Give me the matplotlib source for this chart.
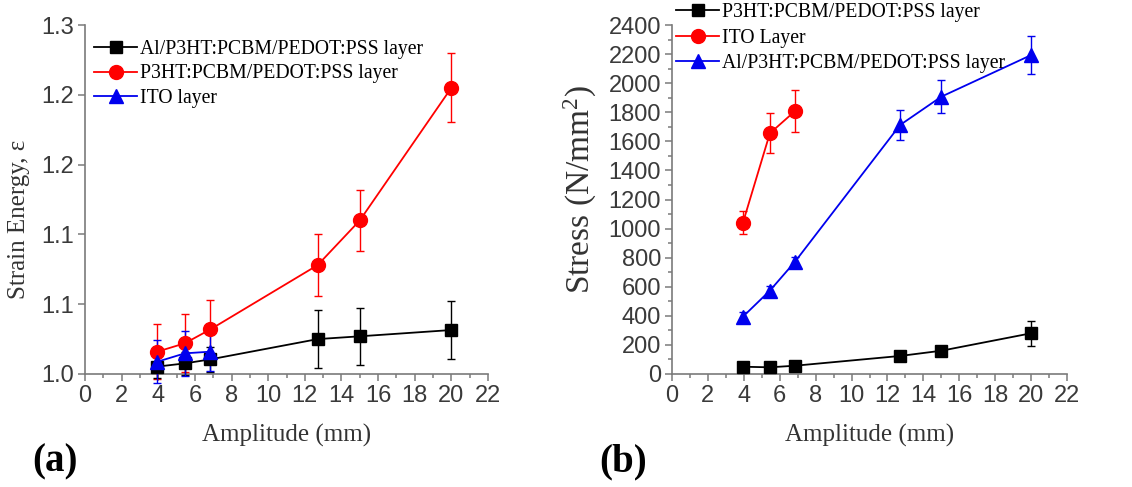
import matplotlib
matplotlib.use("Agg")
import matplotlib.pyplot as plt
from matplotlib.ticker import MultipleLocator, FixedLocator

plt.rcParams["mathtext.fontset"] = "custom"
plt.rcParams["mathtext.rm"] = "Liberation Serif"
plt.rcParams["mathtext.it"] = "Liberation Serif:italic"

# Amplitude values (mm)
amp = [3.95, 5.45, 6.85, 12.7, 15.0, 20.0]
amp_short = [3.95, 5.45, 6.85]

# (a) strain energy
se_al = [1.0053, 1.0076, 1.0105, 1.025, 1.027, 1.0315]
se_al_err = [0.008, 0.008, 0.009, 0.0207, 0.0204, 0.021]
se_p3 = [1.016, 1.022, 1.032, 1.078, 1.110, 1.205]
se_p3_err = [0.0198, 0.0208, 0.021, 0.022, 0.022, 0.0247]
se_ito = [1.0088, 1.0148, 1.016]
se_ito_err = [0.0155, 0.016, 0.014]
se_ticks = [1.0, 1.05, 1.1, 1.15, 1.2, 1.25]
se_ticklabels = ["1.0", "1.1", "1.1", "1.2", "1.2", "1.3"]

# (b) stress
st_p3 = [50, 46, 57, 124, 160, 280]
st_p3_err = [15, 15, 15, 20, 25, 85]
st_ito = [1040, 1655, 1808]
st_ito_err = [80, 137, 146]
st_al = [394, 573, 772, 1712, 1907, 2193]
st_al_err = [30, 30, 30, 103, 115, 132]

RED = "#ff0000"
BLUE = "#0000ee"
SPINE = "#7a7a7a"
TICKC = "#3a3a3a"
SERIF = ["Liberation Serif", "DejaVu Serif"]
SANS = ["Liberation Sans", "DejaVu Sans"]

fig = plt.figure(figsize=(11.32, 4.87), dpi=100)
W, H = 1132, 487


def ax_rect(x0, x1, ytop, ybot):
    return [x0 / W, 1 - ybot / H, (x1 - x0) / W, (ybot - ytop) / H]


def style_axes(ax):
    for s in ("top", "right"):
        ax.spines[s].set_visible(False)
    for s in ("left", "bottom"):
        ax.spines[s].set_color(SPINE)
        ax.spines[s].set_linewidth(1.2)
    ax.tick_params(which="both", direction="out", color=SPINE, width=1.1,
                   labelcolor=TICKC, labelsize=17, pad=3)
    ax.tick_params(which="major", length=5)
    ax.tick_params(which="minor", length=3)
    for lab in ax.get_xticklabels() + ax.get_yticklabels():
        lab.set_fontfamily(SANS)
    ax.set_xlim(0, 22)
    ax.xaxis.set_major_locator(MultipleLocator(2))
    ax.xaxis.set_minor_locator(MultipleLocator(1))
    ax.set_xlabel("Amplitude (mm)", family=SERIF, fontsize=18, color="#333333",
                  labelpad=12)


def series(ax, x, y, err, color, marker, ms, label, lw=1.3):
    c = ax.errorbar(x, y, yerr=err, color=color, marker=marker, markersize=ms,
                    linewidth=lw, elinewidth=1.0, capsize=3, capthick=1.0,
                    clip_on=False, zorder=3)
    line = c[0]
    line.set_label(label)
    return line


LEG = dict(frameon=False, prop={"family": SERIF, "size": 14.2},
           handlelength=2.2, handletextpad=0.12)

# ---- panel (a)
ax1 = fig.add_axes(ax_rect(85, 488, 25, 374))
style_axes(ax1)
ax1.set_ylim(1.0, 1.25)
ax1.yaxis.set_major_locator(FixedLocator(se_ticks))
ax1.set_yticklabels(se_ticklabels, family=SANS)
l_p3 = series(ax1, amp, se_p3, se_p3_err, RED, "o", 10, "P3HT:PCBM/PEDOT:PSS layer")
l_al = series(ax1, amp, se_al, se_al_err, "black", "s", 9, "Al/P3HT:PCBM/PEDOT:PSS layer")
l_ito = series(ax1, amp_short, se_ito, se_ito_err, BLUE, "^", 10, "ITO layer")
ax1.legend(handles=[l_al, l_p3, l_ito], loc="upper left",
           bbox_to_anchor=(-0.012, 0.998), labelspacing=0.3, borderaxespad=0.3,
           **LEG)
fig.text(19 / W, 1 - 219 / H, "Strain Energy, \u03b5", rotation=90,
         ha="center", va="center", family=SERIF, fontsize=18, color="#333333")
fig.text(55 / W, 1 - 462 / H, "(a)", ha="center", va="center", family=SERIF,
         fontsize=28, fontweight="bold")

# ---- panel (b)
ax2 = fig.add_axes(ax_rect(672, 1067, 25, 374))
style_axes(ax2)
ax2.set_ylim(0, 2400)
ax2.yaxis.set_major_locator(MultipleLocator(200))
ax2.yaxis.set_minor_locator(MultipleLocator(100))
m_p3 = series(ax2, amp, st_p3, st_p3_err, "black", "s", 9, "P3HT:PCBM/PEDOT:PSS layer")
m_ito = series(ax2, amp_short, st_ito, st_ito_err, RED, "o", 10, "ITO Layer")
m_al = series(ax2, amp, st_al, st_al_err, BLUE, "^", 10, "Al/P3HT:PCBM/PEDOT:PSS layer")
ax2.legend(handles=[m_p3, m_ito, m_al], loc="upper left",
           bbox_to_anchor=(-0.01, 1.085), labelspacing=0.32, borderaxespad=0.0,
           **LEG)
fig.text(580 / W, 1 - 190 / H, "Stress (N/mm$^{2}$)", rotation=90,
         ha="center", va="center", family=SERIF, fontsize=24, color="#333333")
fig.text(623 / W, 1 - 462 / H, "(b)", ha="center", va="center", family=SERIF,
         fontsize=28, fontweight="bold")

fig.savefig("out.png", dpi=100)
